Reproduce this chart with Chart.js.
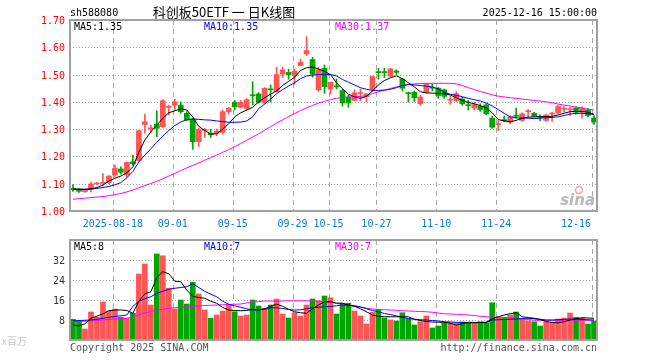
<!DOCTYPE html>
<html>
<head>
<meta charset="utf-8">
<script src="https://cdn.jsdelivr.net/npm/chart.js@4.4.1/dist/chart.umd.min.js"></script>
<style>
body { margin: 0; background: #fff; }
#wrap { position: relative; width: 660px; height: 360px; }
#wrap canvas { position: absolute; left: 0; top: 0; }
</style>
</head>
<body>
<div id="wrap">
<canvas id="kChart" width="660" height="360"></canvas>
<canvas id="volChart" width="660" height="360"></canvas>
</div>
<script>
// trading days shown (2025)
const dates = ["08-07","08-08","08-11","08-12","08-13","08-14","08-15","08-18","08-19","08-20","08-21","08-22","08-25","08-26","08-27","08-28","08-29",
"09-01","09-02","09-03","09-04","09-05","09-08","09-09","09-10","09-11","09-12","09-15","09-16","09-17","09-18","09-19","09-22","09-23","09-24","09-25","09-26","09-29","09-30",
"10-09","10-10","10-13","10-14","10-15","10-16","10-17","10-20","10-21","10-22","10-23","10-24","10-27","10-28","10-29","10-30","10-31",
"11-03","11-04","11-05","11-06","11-07","11-10","11-11","11-12","11-13","11-14","11-17","11-18","11-19","11-20","11-21","11-24","11-25","11-26","11-27","11-28",
"12-01","12-02","12-03","12-04","12-05","12-08","12-09","12-10","12-11","12-12","12-15","12-16"];

// daily open / high / low / close
const openP = [1.083,1.078,1.071,1.079,1.099,1.101,1.104,1.132,1.154,1.132,1.180,1.185,1.317,1.301,1.318,1.309,1.380,1.388,1.388,1.358,
1.337,1.254,1.295,1.285,1.285,1.288,1.364,1.398,1.380,1.376,1.426,1.429,1.396,1.447,1.438,1.502,1.508,1.496,1.533,1.576,
1.555,1.444,1.523,1.447,1.458,1.441,1.417,1.405,1.430,1.419,1.447,1.511,1.510,1.494,1.513,1.484,1.433,1.435,1.393,1.435,
1.453,1.450,1.444,1.406,1.405,1.411,1.388,1.377,1.384,1.389,1.340,1.316,1.333,1.326,1.349,1.332,1.364,1.358,1.345,1.332,
1.355,1.359,1.373,1.371,1.377,1.362,1.371,1.341];
const highP = [1.097,1.081,1.080,1.106,1.106,1.137,1.130,1.168,1.162,1.180,1.205,1.296,1.355,1.315,1.367,1.408,1.388,1.410,1.400,1.364,
1.340,1.303,1.303,1.300,1.300,1.370,1.380,1.405,1.405,1.412,1.474,1.434,1.452,1.462,1.527,1.527,1.520,1.520,1.557,1.639,
1.563,1.527,1.535,1.472,1.484,1.446,1.425,1.444,1.447,1.431,1.495,1.523,1.523,1.523,1.518,1.486,1.436,1.440,1.425,1.467,
1.466,1.453,1.447,1.420,1.438,1.417,1.405,1.399,1.393,1.393,1.347,1.331,1.348,1.349,1.377,1.360,1.372,1.362,1.352,1.355,
1.362,1.387,1.383,1.380,1.382,1.382,1.376,1.350];
const lowP = [1.072,1.068,1.068,1.070,1.096,1.092,1.100,1.126,1.135,1.125,1.168,1.183,1.285,1.285,1.272,1.305,1.352,1.370,1.358,1.330,
1.226,1.236,1.270,1.270,1.276,1.282,1.355,1.370,1.378,1.370,1.389,1.395,1.392,1.399,1.436,1.489,1.483,1.465,1.533,1.569,
1.490,1.438,1.431,1.429,1.447,1.384,1.380,1.405,1.405,1.400,1.437,1.483,1.489,1.492,1.500,1.440,1.399,1.400,1.387,1.432,
1.440,1.413,1.413,1.391,1.400,1.387,1.370,1.370,1.365,1.353,1.303,1.295,1.327,1.320,1.339,1.328,1.345,1.345,1.330,1.328,
1.328,1.357,1.362,1.350,1.355,1.340,1.345,1.317];
const closeP = [1.078,1.072,1.077,1.099,1.102,1.104,1.128,1.156,1.142,1.178,1.173,1.294,1.327,1.305,1.303,1.404,1.382,1.400,1.364,1.333,
1.254,1.299,1.299,1.279,1.293,1.364,1.376,1.382,1.398,1.408,1.422,1.399,1.450,1.444,1.500,1.517,1.500,1.513,1.545,1.588,
1.502,1.517,1.456,1.472,1.455,1.396,1.396,1.433,1.433,1.429,1.493,1.507,1.507,1.521,1.508,1.450,1.430,1.415,1.417,1.466,
1.450,1.423,1.420,1.408,1.430,1.393,1.386,1.390,1.372,1.356,1.307,1.318,1.331,1.344,1.347,1.356,1.366,1.348,1.343,1.352,
1.357,1.383,1.375,1.373,1.362,1.377,1.350,1.326];

// moving averages as drawn
const ma5 = [1.080,1.080,1.079,1.081,1.086,1.095,1.110,1.120,1.128,1.140,1.162,1.215,1.260,1.290,1.315,1.340,1.360,1.367,1.375,1.370,
1.345,1.310,1.295,1.282,1.283,1.300,1.320,1.345,1.360,1.370,1.380,1.400,1.415,1.428,1.440,1.460,1.475,1.490,1.515,1.525,
1.528,1.520,1.512,1.500,1.470,1.448,1.428,1.418,1.413,1.420,1.440,1.462,1.478,1.488,1.495,1.485,1.470,1.455,1.437,1.433,
1.432,1.431,1.430,1.425,1.415,1.405,1.398,1.393,1.386,1.378,1.360,1.335,1.330,1.327,1.332,1.340,1.344,1.345,1.346,1.346,
1.347,1.352,1.358,1.364,1.365,1.365,1.362,1.354];
const ma10 = [1.080,1.080,1.080,1.081,1.083,1.086,1.090,1.096,1.104,1.122,1.145,1.180,1.205,1.228,1.252,1.275,1.295,1.313,1.326,1.335,
1.337,1.336,1.334,1.333,1.330,1.328,1.325,1.325,1.326,1.330,1.345,1.375,1.392,1.410,1.430,1.445,1.458,1.470,1.485,1.495,
1.498,1.500,1.500,1.500,1.495,1.482,1.472,1.462,1.452,1.446,1.442,1.442,1.443,1.446,1.452,1.460,1.463,1.462,1.460,1.457,
1.455,1.447,1.435,1.428,1.424,1.419,1.413,1.408,1.403,1.396,1.385,1.372,1.358,1.345,1.342,1.340,1.340,1.339,1.340,1.342,
1.343,1.345,1.350,1.355,1.358,1.358,1.356,1.354];
const ma30 = [1.043,1.045,1.047,1.049,1.051,1.053,1.056,1.060,1.064,1.070,1.077,1.085,1.093,1.101,1.109,1.118,1.128,1.138,1.148,1.158,
1.167,1.176,1.186,1.196,1.205,1.215,1.225,1.236,1.247,1.259,1.271,1.283,1.296,1.309,1.322,1.334,1.346,1.357,1.368,1.378,
1.387,1.395,1.402,1.408,1.413,1.416,1.418,1.419,1.420,1.423,1.430,1.437,1.443,1.449,1.455,1.460,1.464,1.466,1.467,1.468,
1.468,1.468,1.468,1.468,1.466,1.460,1.452,1.445,1.438,1.432,1.426,1.421,1.418,1.415,1.413,1.410,1.408,1.405,1.403,1.400,
1.397,1.392,1.388,1.385,1.381,1.377,1.373,1.370];

// volume (x百万) and its moving averages
const volume = [8.3,7.5,4.4,11.2,9.1,15.2,11.6,12.4,9.1,8.6,10.7,26.4,30.4,14.0,34.4,33.7,20.7,12.4,16.0,14.4,
23.1,18.4,12.0,8.7,10.0,11.6,14.0,11.3,9.6,10.0,16.0,13.6,12.7,14.0,16.4,10.4,8.8,10.9,9.6,14.0,
16.4,15.6,17.6,16.9,10.4,14.7,14.7,11.6,9.6,6.4,11.1,12.3,8.8,8.0,7.6,10.9,8.4,6.0,7.3,9.6,
4.8,5.6,6.8,6.9,6.9,7.2,6.7,6.7,7.3,6.9,14.9,9.1,9.1,10.0,11.2,8.3,7.7,7.3,5.6,7.3,
6.9,8.4,8.8,10.8,9.1,8.8,6.4,7.6];
const volMa5 = [6.0,5.6,6.5,8.7,9.5,10.5,11.7,12.0,12.0,11.8,10.7,15.5,18.5,19.3,25.0,27.3,26.5,23.5,23.3,20.0,
17.5,17.0,16.7,15.5,14.7,13.0,12.0,11.8,11.7,11.8,12.3,12.0,12.5,13.5,14.3,13.5,12.3,11.3,10.9,10.7,
12.5,14.0,15.3,15.3,14.8,14.7,14.0,13.5,12.5,11.3,10.0,9.5,9.3,9.3,9.3,9.3,9.3,8.3,7.8,7.4,
7.2,7.1,7.1,6.7,6.0,6.5,7.1,7.0,7.0,7.1,8.5,9.3,10.0,10.5,10.9,9.3,9.0,8.7,8.2,7.4,
7.0,6.9,7.3,8.0,8.5,8.9,8.8,8.7];
const volMa10 = [7.7,7.8,7.9,8.0,8.3,8.7,9.1,9.4,9.7,10.0,13.5,15.5,16.5,17.3,18.7,19.5,20.3,20.7,21.0,21.3,
22.5,21.0,19.5,18.3,17.3,15.5,14.3,13.7,13.1,12.5,12.0,12.0,12.3,12.9,12.9,12.6,12.2,12.0,12.1,12.5,
12.9,13.1,13.3,13.4,13.7,14.0,13.9,13.7,13.3,12.5,11.8,11.3,10.6,10.2,9.7,9.0,8.6,8.3,8.1,8.0,
7.8,7.6,7.3,7.2,7.1,7.0,6.9,6.9,7.0,7.0,8.0,8.1,8.2,8.3,8.4,8.6,8.7,8.5,8.3,8.0,
8.0,8.1,8.2,8.4,8.4,8.2,8.1,8.0];
const volMa30 = [7.3,7.4,7.5,7.6,7.8,8.0,8.2,8.4,8.5,8.7,9.2,10.0,10.8,11.3,12.0,12.3,12.7,12.9,13.1,13.3,
13.5,13.6,13.8,13.9,14.0,14.1,14.2,14.3,14.4,14.8,15.1,15.4,15.6,15.6,15.6,15.6,15.7,15.7,15.7,15.7,
15.6,15.5,15.3,15.1,14.6,14.3,13.9,13.5,13.1,12.7,12.4,12.2,12.1,12.0,11.9,11.7,11.6,11.5,11.4,11.3,
11.1,10.8,10.5,10.4,10.3,10.2,10.0,9.8,9.5,9.3,9.2,9.1,9.0,8.9,8.7,8.4,8.2,7.9,7.9,7.9,
7.9,7.9,7.9,7.9,7.9,7.9,7.9,7.9];

// axis ticks and texts
const priceTicks = [1.00,1.10,1.20,1.30,1.40,1.50,1.60,1.70];
const volTicks = [8,16,24,32];
const tickDates = ["08-18","09-01","09-15","09-29","10-15","10-27","11-10","11-24","12-16"];
const tickLabels = ["2025-08-18","09-01","09-15","09-29","10-15","10-27","11-10","11-24","12-16"];
const maNames = ["MA5","MA10","MA30"];
const maLast = ["1.35","1.35","1.37"];
const volMaLast = ["8","7","7"];

const maColors = ["#000000","#0000ff","#ff00ff"];
const upColor = "#ff5555";
const downColor = "#00a600";
const monoFont = '10px "DejaVu Sans Mono"';

// red when close >= open, green otherwise
let candleColors = closeP.map((c, i) => c >= openP[i] ? upColor : downColor);
let bodies = openP.map((o, i) => [o, closeP[i]]);
let wicks = lowP.map((l, i) => [l, highP[i]]);

function lineSet(data, color) {
    return { type: "line", data: data, borderColor: color, borderWidth: 1, pointRadius: 0, tension: 0, order: 0 };
}

function drawText(ctx, s, x, y, color, font, align) {
    ctx.fillStyle = color;
    ctx.font = font;
    ctx.textAlign = align || "left";
    ctx.textBaseline = "alphabetic";
    ctx.fillText(s, x, y);
}

// grid, frame and texts shared by both panels
function panelPlugin(yTicks, drawTexts) {
    return {
        id: "panel",
        beforeDatasetsDraw(chart) {
            let ctx = chart.ctx, a = chart.chartArea;
            let xs = chart.scales.x, ys = chart.scales.y;
            ctx.save();
            ctx.lineWidth = 1;
            ctx.strokeStyle = "#aaaaaa";
            ctx.setLineDash([1, 2]);
            yTicks.forEach(v => {
                let y = Math.round(ys.getPixelForValue(v)) + 0.5;
                if (y <= a.top + 1 || y >= a.bottom - 1) return;
                ctx.beginPath(); ctx.moveTo(a.left, y); ctx.lineTo(a.right, y); ctx.stroke();
            });
            ctx.setLineDash([5, 4]);
            tickDates.forEach(d => {
                let x = Math.round(xs.getPixelForValue(dates.indexOf(d)) - 2) + 0.5;
                ctx.beginPath(); ctx.moveTo(x, a.top); ctx.lineTo(x, a.bottom); ctx.stroke();
            });
            ctx.restore();
        },
        afterDraw(chart) {
            let ctx = chart.ctx, a = chart.chartArea;
            ctx.save();
            ctx.strokeStyle = "#a0a0a0";
            ctx.lineWidth = 2;
            ctx.setLineDash([]);
            ctx.strokeRect(a.left, a.top, a.right - a.left, a.bottom - a.top);
            drawTexts(chart, ctx, a);
            ctx.restore();
        }
    };
}

let kChart = new Chart("kChart", {
    type: "bar",
    data: {
        labels: dates,
        datasets: [
            lineSet(ma5, maColors[0]),
            lineSet(ma10, maColors[1]),
            lineSet(ma30, maColors[2]),
            { data: bodies, backgroundColor: candleColors, barThickness: 5, minBarLength: 1, grouped: false, order: 1 },
            { data: wicks, backgroundColor: candleColors, barThickness: 1, grouped: false, order: 2 }
        ]
    },
    options: {
        responsive: false,
        animation: false,
        layout: { padding: { left: 70, right: 63, top: 20, bottom: 149 } },
        plugins: { legend: { display: false }, tooltip: { enabled: false } },
        scales: {
            x: { display: false, offset: true },
            y: { display: false, min: 1.0, max: 1.7 }
        }
    },
    plugins: [panelPlugin(priceTicks, (chart, ctx, a) => {
        let xs = chart.scales.x, ys = chart.scales.y;
        // header
        drawText(ctx, "sh588080", 70, 16, "#000", monoFont);
        drawText(ctx, "科创板50ETF 一 日K线图", 224, 17, "#000", '13px "Noto Sans CJK SC"', "center");
        drawText(ctx, "2025-12-16 15:00:00", 597, 16, "#000", monoFont, "right");
        // price labels
        priceTicks.forEach(v => {
            drawText(ctx, v.toFixed(2), 65, ys.getPixelForValue(v) + 4, "#ff0000", monoFont, "right");
        });
        // date labels, last one kept inside the frame
        tickDates.forEach((d, k) => {
            let x = xs.getPixelForValue(dates.indexOf(d)) - 2;
            let align = "center";
            if (k == tickDates.length - 1) { x = x - 1; align = "right"; }
            drawText(ctx, tickLabels[k], x, 227, "#0a7ccc", monoFont, align);
        });
        // MA legend
        let mx = [74, 204, 335];
        maNames.forEach((n, k) => drawText(ctx, n + ":" + maLast[k], mx[k], 30, maColors[k], monoFont));
        // sina watermark
        ctx.strokeStyle = "#f3a0a0"; ctx.lineWidth = 1.5;
        ctx.beginPath(); ctx.arc(579, 190, 3.5, 0, Math.PI * 2); ctx.stroke();
        drawText(ctx, "sina", 595, 205, "#b8b8b8", 'italic bold 15px "DejaVu Sans"', "right");
    })]
});

let volChart = new Chart("volChart", {
    type: "bar",
    data: {
        labels: dates,
        datasets: [
            lineSet(volMa5, maColors[0]),
            lineSet(volMa10, maColors[1]),
            lineSet(volMa30, maColors[2]),
            { data: volume, backgroundColor: candleColors, barThickness: 5, grouped: false, order: 1 }
        ]
    },
    options: {
        responsive: false,
        animation: false,
        layout: { padding: { left: 70, right: 63, top: 240, bottom: 20 } },
        plugins: { legend: { display: false }, tooltip: { enabled: false } },
        scales: {
            x: { display: false, offset: true },
            y: { display: false, min: 0, max: 40 }
        }
    },
    plugins: [panelPlugin(volTicks, (chart, ctx, a) => {
        let ys = chart.scales.y;
        volTicks.forEach(v => {
            drawText(ctx, String(v), 65, ys.getPixelForValue(v) + 4, "#333333", monoFont, "right");
        });
        let mx = [74, 204, 335];
        maNames.forEach((n, k) => drawText(ctx, n + ":" + volMaLast[k], mx[k], 250, maColors[k], monoFont));
        drawText(ctx, "x百万", 2, 345, "#c8c8c8", '10px "Noto Sans CJK SC"');
        drawText(ctx, "Copyright 2025 SINA.COM", 70, 351, "#555555", monoFont);
        drawText(ctx, "http://finance.sina.com.cn", 597, 351, "#555555", monoFont, "right");
    })]
});
</script>
</body>
</html>
